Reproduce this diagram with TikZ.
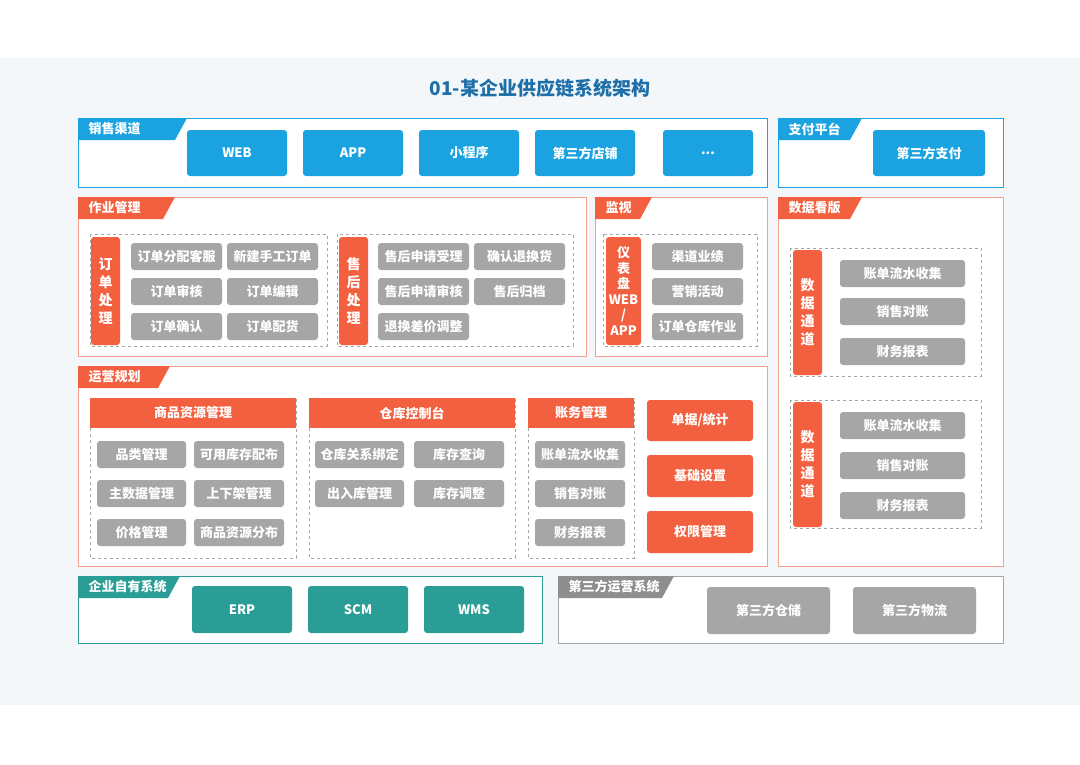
\documentclass[tikz,border=0pt]{standalone}
\usepackage{fontspec}
\setmainfont{Noto Sans CJK SC}
\definecolor{bl}{HTML}{1AA3E0}
\definecolor{og}{HTML}{F2603F}
\definecolor{gy}{HTML}{A6A6A6}
\definecolor{dg}{HTML}{8E8E8E}
\definecolor{tl}{HTML}{2A9D96}
\definecolor{ti}{HTML}{1E6FA8}
\definecolor{bgc}{HTML}{F3F7FA}
\definecolor{ob}{HTML}{F4A08C}
\newcommand\bx[7]{\node[bxs,#2,minimum width={(#5-#3)*1pt},minimum height={(#6-#4)*1pt}] (#1) at ({(#3+#5)/2},{(#4+#6)/2}) {#7};}
\newcommand\tab[6]{\fill[#2] (#3,#4) -- (#5+12,#4) -- (#5,#6) -- (#3,#6) -- cycle;
 \node[font=\bfseries\fontsize{13}{15}\selectfont,text=white,anchor=west] (#1) at (#3+7,{(#4+#6)/2}) {#1};}
\newcommand\dbox[4]{\draw[dashed,gray!70,line width=0.6pt] (#1,#2) rectangle (#3,#4);}
\begin{document}
\begin{tikzpicture}[x=1pt,y=-1pt,
 bxs/.style={rounded corners=3pt,text=white,font=\bfseries\fontsize{13}{15}\selectfont,inner sep=0pt,align=center},
 v/.style={font=\bfseries\fontsize{14}{18}\selectfont},
 b/.style={fill=bl}, o/.style={fill=og}, g/.style={fill=gy}, t/.style={fill=tl},
 fr/.style={fill=white,line width=1pt}]
\useasboundingbox (0,0) rectangle (1080,764);
\fill[white] (0,0) rectangle (1080,764);
\fill[bgc] (0,58) rectangle (1080,705);
\node[text=ti,font=\bfseries\fontsize{19}{22}\selectfont] (title) at (540,88) {01-某企业供应链系统架构};
% sales
\draw[fr,draw=bl] (78,118) rectangle (767,187);
\tab{销售渠道}{bl}{78}{118}{175}{140}
\bx{web}{b}{187}{130}{287}{176}{WEB}
\bx{app}{b}{303}{130}{403}{176}{APP}
\bx{mini}{b}{419}{130}{519}{176}{小程序}
\bx{shop}{b}{535}{130}{635}{176}{第三方店铺}
\bx{more}{b}{663}{130}{753}{176}{...}
\draw[fr,draw=bl] (778,118) rectangle (1003,187);
\tab{支付平台}{bl}{778}{118}{850}{140}
\bx{pay}{b}{873}{130}{985}{176}{第三方支付}
% zuoye
\draw[fr,draw=ob] (78,197) rectangle (586,356);
\tab{作业管理}{og}{78}{197}{163}{219}
\dbox{90}{234}{327}{346}
\bx{ddcl}{o,v}{91}{237}{120}{345}{订\\单\\处\\理}
\bx{a1}{g}{131}{243}{222}{270}{订单分配客服}
\bx{a2}{g}{227}{243}{318}{270}{新建手工订单}
\bx{a3}{g}{131}{278}{222}{305}{订单审核}
\bx{a4}{g}{227}{278}{318}{305}{订单编辑}
\bx{a5}{g}{131}{313}{222}{340}{订单确认}
\bx{a6}{g}{227}{313}{318}{340}{订单配货}
\dbox{337}{234}{573}{346}
\bx{shcl}{o,v}{339}{237}{368}{345}{售\\后\\处\\理}
\bx{s1}{g}{378}{243}{469}{270}{售后申请受理}
\bx{s2}{g}{474}{243}{565}{270}{确认退换货}
\bx{s3}{g}{378}{278}{469}{305}{售后申请审核}
\bx{s4}{g}{474}{278}{565}{305}{售后归档}
\bx{s5}{g}{378}{313}{469}{340}{退换差价调整}
% jianshi
\draw[fr,draw=ob] (595,197) rectangle (767,356);
\tab{监视}{og}{595}{197}{640}{219}
\dbox{603}{234}{757}{346}
\bx{ybp}{o,font=\bfseries\fontsize{13}{15.5}\selectfont}{606}{237}{641}{345}{仪\\表\\盘\\WEB\\/\\APP}
\bx{m1}{g}{652}{243}{743}{270}{渠道业绩}
\bx{m2}{g}{652}{278}{743}{305}{营销活动}
\bx{m3}{g}{652}{313}{743}{340}{订单仓库作业}
% shuju
\draw[fr,draw=ob] (778,197) rectangle (1003,566);
\tab{数据看版}{og}{778}{197}{850}{219}
\dbox{790}{248}{981}{376}
\bx{sjtd1}{o,v}{793}{250}{822}{375}{数\\据\\通\\道}
\bx{d1}{g}{840}{260}{965}{287}{账单流水收集}
\bx{d2}{g}{840}{298}{965}{325}{销售对账}
\bx{d3}{g}{840}{338}{965}{365}{财务报表}
\dbox{790}{400}{981}{528}
\bx{sjtd2}{o,v}{793}{402}{822}{527}{数\\据\\通\\道}
\bx{e1}{g}{840}{412}{965}{439}{账单流水收集}
\bx{e2}{g}{840}{452}{965}{479}{销售对账}
\bx{e3}{g}{840}{492}{965}{519}{财务报表}
% yunying
\draw[fr,draw=ob] (78,366) rectangle (767,566);
\tab{运营规划}{og}{78}{366}{158}{388}
\dbox{90}{398}{296}{558}
\bx{spzy}{o,rounded corners=0pt}{90}{398}{296}{428}{商品资源管理}
\bx{p1}{g}{97}{441}{186}{468}{品类管理}
\bx{p2}{g}{194}{441}{284}{468}{可用库存配布}
\bx{p3}{g}{97}{480}{186}{507}{主数据管理}
\bx{p4}{g}{194}{480}{284}{507}{上下架管理}
\bx{p5}{g}{97}{519}{186}{546}{价格管理}
\bx{p6}{g}{194}{519}{284}{546}{商品资源分布}
\dbox{309}{398}{515}{558}
\bx{ckkz}{o,rounded corners=0pt}{309}{398}{515}{428}{仓库控制台}
\bx{c1}{g}{315}{441}{404}{468}{仓库关系绑定}
\bx{c2}{g}{414}{441}{504}{468}{库存查询}
\bx{c3}{g}{315}{480}{404}{507}{出入库管理}
\bx{c4}{g}{414}{480}{504}{507}{库存调整}
\dbox{528}{398}{634}{558}
\bx{zwgl}{o,rounded corners=0pt}{528}{398}{634}{428}{账务管理}
\bx{z1}{g}{535}{441}{625}{468}{账单流水收集}
\bx{z2}{g}{535}{480}{625}{507}{销售对账}
\bx{z3}{g}{535}{519}{625}{546}{财务报表}
\bx{r1}{o}{647}{400}{753}{441}{单据/统计}
\bx{r2}{o}{647}{455}{753}{497}{基础设置}
\bx{r3}{o}{647}{511}{753}{553}{权限管理}
% bottom
\draw[fr,draw=tl] (78,576) rectangle (542,643);
\tab{企业自有系统}{tl}{78}{576}{168}{598}
\bx{erp}{t}{192}{586}{292}{633}{ERP}
\bx{scm}{t}{308}{586}{408}{633}{SCM}
\bx{wms}{t}{424}{586}{524}{633}{WMS}
\draw[fr,draw=gy] (558,576) rectangle (1003,643);
\tab{第三方运营系统}{dg}{558}{576}{662}{598}
\bx{wh}{g}{707}{587}{830}{634}{第三方仓储}
\bx{lg}{g}{853}{587}{976}{634}{第三方物流}
\end{tikzpicture}
\end{document}
